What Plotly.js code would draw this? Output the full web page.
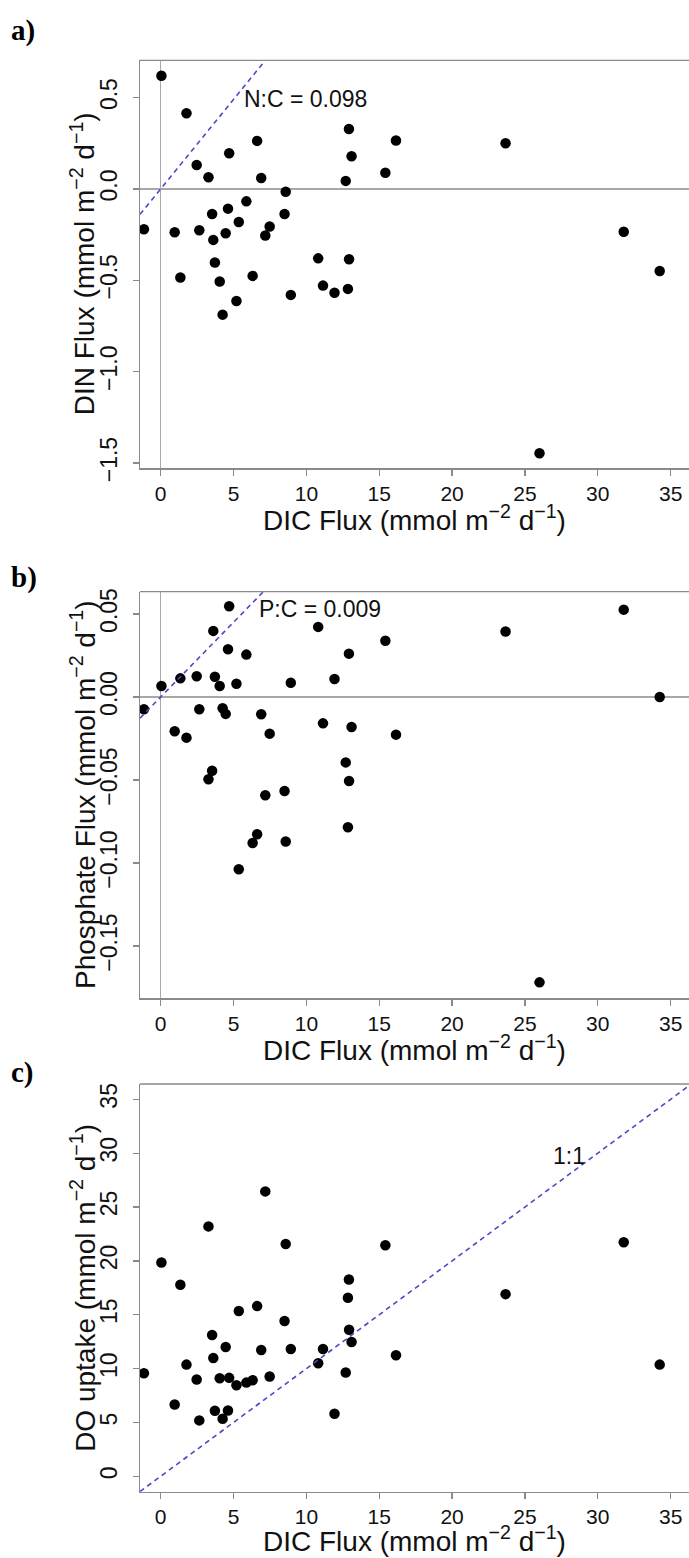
<!DOCTYPE html>
<html>
<head>
<meta charset="utf-8">
<script src="https://cdn.plot.ly/plotly-3.0.1.min.js"></script>
<style>
  html, body { margin: 0; padding: 0; background: #fff; }
  #chart { width: 689px; height: 1558px; }
</style>
</head>
<body>
<div id="chart"></div>
<script>
// ---------------- data ----------------
const dicFlux = [-1.15, 0.05, 0.96, 1.35, 1.77, 2.47, 2.65, 3.28, 3.53, 3.61, 3.72, 4.05, 4.25, 4.46, 4.62, 4.70, 5.20, 5.36, 5.88, 6.31, 6.62, 6.90, 7.18, 7.48, 8.50, 8.58, 8.93, 10.81, 11.14, 11.93, 12.70, 12.85, 12.92, 12.93, 13.10, 15.42, 16.15, 23.67, 26.00, 31.78, 34.25];

const dinFlux = [-0.221, 0.619, -0.237, -0.485, 0.414, 0.131, -0.226, 0.064, -0.137, -0.279, -0.403, -0.507, -0.688, -0.243, -0.108, 0.195, -0.613, -0.181, -0.068, -0.476, 0.263, 0.060, -0.255, -0.206, -0.137, -0.015, -0.580, -0.380, -0.529, -0.568, 0.044, -0.547, 0.328, -0.385, 0.179, 0.089, 0.265, 0.250, -1.447, -0.234, -0.449];

const phosphateFlux = [-0.0074, 0.0066, -0.0207, 0.0112, -0.0245, 0.0125, -0.0074, -0.0496, -0.0444, 0.0398, 0.0122, 0.0066, -0.0068, -0.0102, 0.0287, 0.0546, 0.0080, -0.1038, 0.0255, -0.0880, -0.0827, -0.0104, -0.0592, -0.0221, -0.0566, -0.0871, 0.0086, 0.0422, -0.0159, 0.0108, -0.0394, -0.0785, 0.0261, -0.0506, -0.0181, 0.0339, -0.0227, 0.0394, -0.1719, 0.0526, 0.0000];

const doUptake = [9.57, 19.85, 6.67, 17.78, 10.37, 8.98, 5.19, 23.2, 13.12, 10.99, 6.08, 9.10, 5.34, 12.0, 6.11, 9.14, 8.46, 15.35, 8.70, 8.92, 15.8, 11.73, 26.45, 9.26, 14.41, 21.57, 11.82, 10.49, 11.82, 5.80, 9.63, 16.57, 18.27, 13.61, 12.47, 21.45, 11.23, 16.91, null, 21.73, 10.37];

// ratio lines (slope through origin) and their labels
const ratioSlopes = [0.098, 0.009, 1];
const ratioLabels = ['N:C = 0.098', 'P:C = 0.009', '1:1'];
const ratioLabelX = [5.55, 6.6, 26.8];
const ratioLabelY = [0.4926, 0.053, 29.78];

const panelLetters = ['a)', 'b)', 'c)'];
const yTitles = [
  'DIN Flux (mmol m<sup>\u22122</sup> d<sup>\u22121</sup>)',
  'Phosphate Flux (mmol m<sup>\u22122</sup> d<sup>\u22121</sup>)',
  'DO uptake (mmol m<sup>\u22122</sup> d<sup>\u22121</sup>)'
];
const xTitle = 'DIC Flux (mmol m<sup>\u22122</sup> d<sup>\u22121</sup>)';

const xTicks = [0, 5, 10, 15, 20, 25, 30, 35];
const yTicksA = [-1.5, -1.0, -0.5, 0.0, 0.5];
const yTicksB = [-0.15, -0.10, -0.05, 0.00, 0.05];
const yTicksC = [0, 5, 10, 15, 20, 25, 30, 35];

// ---------------- layout geometry (pixels) ----------------
const W = 689, H = 1558;
const plotLeft = 140;
const panels = [
  { top: 60.3, bottom: 468.3, yr: [-1.529, 0.704], ticks: yTicksA, fmt: '.1f', zero: true, letterY: 30, xTitleGap: 50 },
  { top: 591.7, bottom: 998.3, yr: [-0.1815, 0.0634], ticks: yTicksB, fmt: '.2f', zero: true, letterY: 577, xTitleGap: 50 },
  { top: 1084, bottom: 1491.7, yr: [-1.43, 36.42], ticks: yTicksC, fmt: 'd', zero: false, letterY: 1072, xTitleGap: 47 }
];
const xRange = [-1.42, 36.26];
const ySeries = [dinFlux, phosphateFlux, doUptake];

const FONT = '"Liberation Sans", Arial, Helvetica, sans-serif';
const BORDER = '#8a8a8a';
const ZERO = '#a8a8a8';
const px2y = p => 1 - p / H;
const px2x = p => p / W;

const traces = [];
const layout = {
  width: W, height: H,
  margin: { l: 0, r: 0, t: 0, b: 0, pad: 0 },
  paper_bgcolor: '#fff', plot_bgcolor: '#fff',
  showlegend: false,
  font: { family: FONT, color: '#111', size: 21 },
  annotations: [], shapes: []
};

panels.forEach((p, i) => {
  const n = i === 0 ? '' : String(i + 1);
  const xa = 'x' + n, ya = 'y' + n;
  // points
  traces.push({
    type: 'scatter', mode: 'markers', x: dicFlux, y: ySeries[i],
    xaxis: xa, yaxis: ya,
    marker: { color: '#000', size: 10.5, line: { width: 0 } },
    cliponaxis: true, hoverinfo: 'skip'
  });
  // ratio line
  const s = ratioSlopes[i];
  traces.push({
    type: 'scatter', mode: 'lines', x: [xRange[0], xRange[1]], y: [s * xRange[0], s * xRange[1]],
    xaxis: xa, yaxis: ya,
    line: { color: '#4a4ac8', width: 1.6, dash: '5px,4px' }, hoverinfo: 'skip'
  });

  layout['xaxis' + n] = {
    domain: [plotLeft / W, 1], range: xRange, anchor: ya,
    showgrid: false, zeroline: p.zero, zerolinecolor: ZERO, zerolinewidth: 1.2,
    showline: true, linecolor: BORDER, linewidth: 1.3, mirror: false,
    ticks: 'outside', ticklen: 6, tickcolor: BORDER, tickwidth: 1.3,
    tickvals: xTicks, tickformat: 'd', tickfont: { family: FONT, size: 21, color: '#111' },
    fixedrange: true
  };
  layout['yaxis' + n] = {
    domain: [px2y(p.bottom), px2y(p.top)], range: p.yr, anchor: xa,
    showgrid: false, zeroline: p.zero, zerolinecolor: ZERO, zerolinewidth: 1.2,
    showline: true, linecolor: BORDER, linewidth: 1.3, mirror: false,
    ticks: 'outside', ticklen: 6, tickcolor: BORDER, tickwidth: 1.3,
    tickvals: p.ticks, tickformat: p.fmt, tickangle: -90,
    tickfont: { family: FONT, size: 23, color: '#111' },
    ticklabelstandoff: 7, fixedrange: true
  };
  // top border of the box
  layout.shapes.push({
    type: 'line', xref: xa + ' domain', yref: ya + ' domain',
    x0: 0, x1: 1, y0: 1, y1: 1, line: { color: BORDER, width: 1.3 }
  });
  // panel letter
  layout.annotations.push({
    text: '<b>' + panelLetters[i] + '</b>', xref: 'paper', yref: 'paper',
    x: px2x(9), y: px2y(p.letterY), xanchor: 'left', yanchor: 'middle', showarrow: false,
    font: { family: '"Liberation Serif", "Times New Roman", serif', size: 29, color: '#000' }
  });
  // y title
  layout.annotations.push({
    text: yTitles[i], xref: 'paper', yref: 'paper',
    x: px2x(83), y: px2y((p.top + p.bottom) / 2), xanchor: 'center', yanchor: 'middle',
    textangle: -90, showarrow: false, font: { family: FONT, size: 28, color: '#111' }
  });
  // x title
  layout.annotations.push({
    text: xTitle, xref: 'paper', yref: 'paper',
    x: px2x((plotLeft + W) / 2), y: px2y(p.bottom + p.xTitleGap), xanchor: 'center', yanchor: 'middle',
    showarrow: false, font: { family: FONT, size: 28, color: '#111' }
  });
  // ratio label
  layout.annotations.push({
    text: ratioLabels[i], xref: xa, yref: ya, x: ratioLabelX[i], y: ratioLabelY[i],
    xanchor: 'left', yanchor: 'middle', showarrow: false,
    font: { family: FONT, size: 23, color: '#111' }
  });
});

Plotly.newPlot('chart', traces, layout, { staticPlot: true, displayModeBar: false });
</script>
</body>
</html>
